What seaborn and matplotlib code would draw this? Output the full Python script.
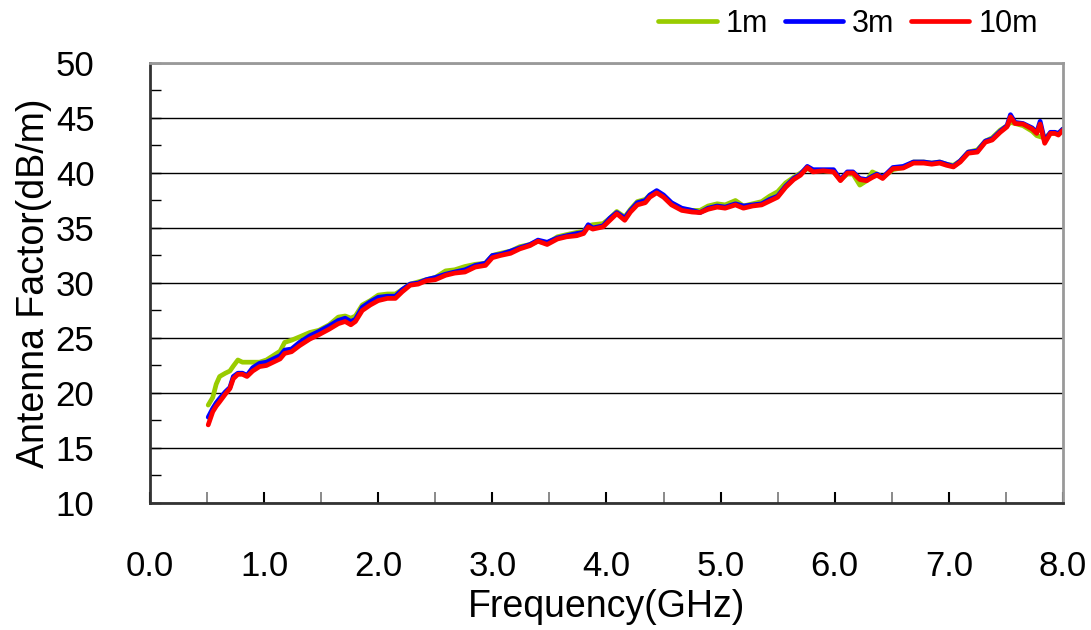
import pandas as pd
import numpy as np
import matplotlib
matplotlib.use('Agg')
import matplotlib.pyplot as plt
import seaborn as sns
from matplotlib.ticker import MultipleLocator, FormatStrFormatter

freq = [0.51, 0.55, 0.58, 0.61, 0.66, 0.70, 0.73, 0.77, 0.81, 0.85,
        0.90, 0.96, 1.02, 1.08, 1.14, 1.18, 1.24, 1.31, 1.40, 1.48,
        1.57, 1.65, 1.71, 1.76, 1.80, 1.86, 1.93, 2.00, 2.08, 2.15,
        2.21, 2.28, 2.35, 2.42, 2.50, 2.59, 2.67, 2.76, 2.85, 2.94,
        3.00, 3.07, 3.16, 3.24, 3.33, 3.40, 3.48, 3.57, 3.65, 3.74,
        3.80, 3.84, 3.88, 3.97, 4.03, 4.09, 4.16, 4.21, 4.27, 4.34,
        4.38, 4.44, 4.50, 4.57, 4.66, 4.75, 4.82, 4.89, 4.97, 5.04,
        5.13, 5.20, 5.28, 5.36, 5.43, 5.50, 5.57, 5.64, 5.70, 5.76,
        5.81, 5.90, 5.99, 6.05, 6.11, 6.16, 6.22, 6.28, 6.33, 6.37,
        6.42, 6.51, 6.60, 6.69, 6.78, 6.85, 6.92, 6.98, 7.04, 7.10,
        7.17, 7.25, 7.32, 7.38, 7.45, 7.51, 7.54, 7.58, 7.65, 7.73,
        7.77, 7.80, 7.84, 7.89, 7.93, 7.96, 8.00]

af_1m = [18.9, 19.6, 20.8, 21.5, 21.8, 22.0, 22.45, 23.0, 22.8, 22.8,
         22.8, 22.8, 23.0, 23.4, 23.8, 24.6, 24.8, 25.1, 25.5, 25.7,
         26.2, 26.9, 27.0, 26.8, 27.0, 28.0, 28.4, 28.9, 29.0, 29.0,
         29.4, 29.9, 30.1, 30.3, 30.5, 31.1, 31.2, 31.5, 31.7, 31.8,
         32.5, 32.7, 32.9, 33.3, 33.5, 33.8, 33.6, 34.2, 34.4, 34.6,
         34.7, 35.2, 35.3, 35.4, 35.9, 36.5, 36.0, 36.7, 37.4, 37.6,
         38.0, 38.3, 37.9, 37.2, 36.7, 36.6, 36.6, 37.0, 37.2, 37.1,
         37.5, 37.0, 37.2, 37.4, 37.9, 38.3, 39.1, 39.6, 40.0, 40.4,
         40.2, 40.2, 40.1, 39.4, 39.9, 39.9, 38.9, 39.3, 40.1, 39.9,
         39.6, 40.3, 40.5, 41.0, 41.0, 40.9, 41.0, 40.8, 40.7, 41.1,
         41.9, 42.1, 42.9, 43.2, 43.9, 44.3, 44.6, 44.5, 44.3, 43.8,
         43.4, 43.3, 43.2, 43.6, 43.6, 43.6, 44.0]

af_3m = [17.8, 18.6, 19.1, 19.5, 20.1, 20.5, 21.5, 21.8, 21.8, 21.6,
         22.3, 22.7, 22.8, 23.1, 23.4, 23.9, 24.0, 24.6, 25.2, 25.6,
         26.1, 26.6, 26.8, 26.5, 26.7, 27.8, 28.3, 28.7, 28.8, 28.8,
         29.4, 29.9, 30.0, 30.3, 30.5, 30.8, 31.0, 31.2, 31.6, 31.8,
         32.5, 32.6, 32.9, 33.2, 33.5, 33.9, 33.7, 34.1, 34.3, 34.5,
         34.6, 35.3, 35.0, 35.2, 35.9, 36.4, 35.9, 36.6, 37.3, 37.5,
         38.0, 38.4, 38.0, 37.3, 36.8, 36.6, 36.4, 36.8, 37.0, 36.9,
         37.2, 37.0, 37.1, 37.2, 37.6, 37.9, 38.8, 39.5, 39.9, 40.6,
         40.3, 40.3, 40.3, 39.4, 40.1, 40.1, 39.5, 39.4, 39.7, 39.9,
         39.6, 40.5, 40.6, 41.0, 41.0, 40.9, 41.0, 40.8, 40.6, 41.1,
         41.9, 42.0, 42.9, 43.1, 43.8, 44.3, 45.3, 44.6, 44.5, 44.1,
         43.7, 44.7, 42.9, 43.7, 43.7, 43.6, 44.0]

af_10m = [17.1, 18.3, 18.8, 19.2, 19.9, 20.4, 21.3, 21.7, 21.7, 21.5,
          22.0, 22.4, 22.5, 22.8, 23.1, 23.6, 23.75, 24.3, 24.9, 25.3,
          25.8, 26.3, 26.5, 26.2, 26.5, 27.5, 28.0, 28.4, 28.6, 28.6,
          29.2, 29.8, 29.9, 30.2, 30.3, 30.7, 30.9, 31.0, 31.45, 31.6,
          32.3, 32.5, 32.7, 33.1, 33.4, 33.8, 33.5, 34.0, 34.2, 34.3,
          34.5, 35.1, 34.9, 35.1, 35.7, 36.3, 35.7, 36.45, 37.1, 37.3,
          37.8, 38.2, 37.8, 37.1, 36.6, 36.45, 36.4, 36.7, 36.9, 36.8,
          37.1, 36.8, 37.0, 37.1, 37.45, 37.8, 38.7, 39.4, 39.8, 40.5,
          40.1, 40.2, 40.1, 39.3, 40.0, 40.0, 39.4, 39.3, 39.6, 39.8,
          39.5, 40.4, 40.45, 40.9, 40.9, 40.8, 40.9, 40.7, 40.55, 41.0,
          41.8, 41.9, 42.8, 43.0, 43.7, 44.2, 45.1, 44.5, 44.45, 44.0,
          43.6, 44.45, 42.7, 43.6, 43.6, 43.45, 43.9]

distances = ['1m', '3m', '10m']
colors = {'1m': '#99cc00', '3m': '#0000ff', '10m': '#ff0000'}

df = pd.DataFrame({
    'Frequency': freq * 3,
    'AF': af_1m + af_3m + af_10m,
    'Distance': ['1m'] * len(freq) + ['3m'] * len(freq) + ['10m'] * len(freq),
})

sns.set_style('white')
plt.rcParams['font.family'] = ['Liberation Sans', 'DejaVu Sans']
plt.rcParams['text.color'] = 'black'
plt.rcParams['axes.labelcolor'] = 'black'
plt.rcParams['xtick.color'] = 'black'
plt.rcParams['ytick.color'] = 'black'

fig = plt.figure(figsize=(10.91, 6.30), dpi=100)
ax = fig.add_axes([0.1375, 0.2016, 0.8368, 0.6984])

sns.lineplot(data=df, x='Frequency', y='AF', hue='Distance', hue_order=distances,
             palette=colors, linewidth=3.4, estimator=None, sort=False, ax=ax,
             solid_joinstyle='round', solid_capstyle='round')

ax.set_xlim(0, 8)
ax.set_ylim(10, 50)
ax.xaxis.set_major_locator(MultipleLocator(1))
ax.xaxis.set_minor_locator(MultipleLocator(0.5))
ax.xaxis.set_major_formatter(FormatStrFormatter('%.1f'))
ax.yaxis.set_major_locator(MultipleLocator(5))
ax.yaxis.set_minor_locator(MultipleLocator(2.5))

ax.grid(True, axis='y', which='major', color='black', linewidth=1)
ax.set_axisbelow(True)

ax.tick_params(axis='both', which='both', direction='in', labelsize=25,
               left=True, bottom=True, colors='black')
ax.tick_params(axis='x', which='major', length=8, width=1.5, pad=34)
ax.tick_params(axis='x', which='minor', length=8, width=1.2, color='#777777')
ax.tick_params(axis='y', which='major', length=8, width=1, pad=40)
ax.tick_params(axis='y', which='minor', length=8, width=1)

for side in ['left', 'bottom']:
    ax.spines[side].set_color('#333333')
    ax.spines[side].set_linewidth(2)
for side in ['top', 'right']:
    ax.spines[side].set_color('#999999')
    ax.spines[side].set_linewidth(2)

ax.set_xlabel('Frequency(GHz)', fontsize=27, labelpad=4)
ax.set_ylabel('Antenna Factor(dB/m)', fontsize=27, labelpad=3)

handles, labels = ax.get_legend_handles_labels()
ax.legend(handles, labels, loc='upper right', bbox_to_anchor=(1038 / 1091, 1 - 9 / 630),
          bbox_transform=fig.transFigure, ncol=3, frameon=False, fontsize=22,
          handlelength=1.9, handletextpad=0.3, columnspacing=0.55, borderpad=0,
          borderaxespad=0)

plt.savefig('out.png', dpi=100)
